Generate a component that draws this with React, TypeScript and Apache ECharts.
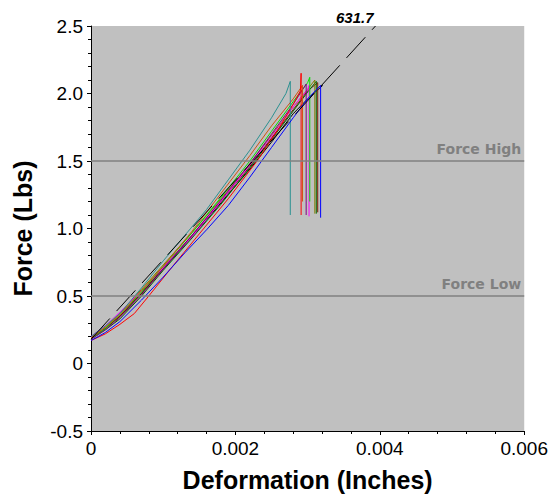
import React, { useEffect, useRef } from "react";
import * as echarts from "echarts";

// Axis ranges / ticks
const xTicks = [0, 0.002, 0.004, 0.006];
const yTicks = [-0.5, 0, 0.5, 1.0, 1.5, 2.0, 2.5];

// Limit lines
const forceHigh = 1.5;
const forceLow = 0.5;

// Stiffness fit line (dashed)
const fitLine: [number, number][] = [
  [0, 0.18],
  [0.00394, 2.5],
];
const fitLabel = "631.7";

// Test curves: [deformation, force]
const teal: [number, number][] = [
  [0, 0.2], [0.0002, 0.28], [0.0004, 0.37], [0.0007, 0.56], [0.001, 0.76], [0.0013, 0.95],
  [0.0016, 1.14], [0.0019, 1.36], [0.0022, 1.58], [0.0025, 1.82], [0.0027, 2.0], [0.00276, 2.09], [0.00276, 1.10],
];
const red: [number, number][] = [
  [0, 0.17], [0.0002, 0.22], [0.0004, 0.29], [0.0006, 0.37], [0.0008, 0.5], [0.0011, 0.7], [0.0015, 0.96],
  [0.0019, 1.22], [0.0023, 1.5], [0.0026, 1.74], [0.0028, 1.92], [0.0029, 2.02], [0.00291, 2.15], [0.00291, 1.10],
];
const orange: [number, number][] = [
  [0, 0.19], [0.0002, 0.27], [0.0004, 0.36], [0.0007, 0.54], [0.001, 0.72], [0.0014, 0.98], [0.0018, 1.26],
  [0.0022, 1.54], [0.0025, 1.76], [0.0028, 1.96], [0.00293, 2.06], [0.00293, 1.2],
];
const purple: [number, number][] = [
  [0, 0.18], [0.0002, 0.25], [0.0004, 0.34], [0.0007, 0.51], [0.001, 0.7], [0.0014, 0.95], [0.0018, 1.21],
  [0.0022, 1.48], [0.0025, 1.7], [0.0028, 1.92], [0.00298, 2.07], [0.00298, 1.10],
];
const green: [number, number][] = [
  [0, 0.18], [0.0002, 0.26], [0.0004, 0.36], [0.0007, 0.53], [0.001, 0.72], [0.0014, 0.97], [0.0018, 1.23],
  [0.0022, 1.5], [0.0025, 1.72], [0.0028, 1.94], [0.003, 2.08], [0.00303, 2.12], [0.00303, 1.2],
];
const magenta: [number, number][] = [
  [0, 0.2], [0.0002, 0.28], [0.0004, 0.38], [0.0007, 0.54], [0.001, 0.71], [0.0014, 0.94], [0.0018, 1.2],
  [0.0022, 1.47], [0.0025, 1.68], [0.0028, 1.9], [0.003, 2.03], [0.00302, 2.06], [0.00302, 1.09],
];
const olive: [number, number][] = [
  [0, 0.19], [0.0002, 0.27], [0.0004, 0.37], [0.0007, 0.55], [0.001, 0.73], [0.0014, 0.97], [0.0018, 1.22],
  [0.0022, 1.48], [0.0025, 1.69], [0.0028, 1.9], [0.003, 2.03], [0.0031, 2.1], [0.0031, 1.11],
];
const darkGreen: [number, number][] = [
  [0, 0.18], [0.0002, 0.25], [0.0004, 0.33], [0.0007, 0.5], [0.001, 0.69], [0.0014, 0.93], [0.0018, 1.18],
  [0.0022, 1.45], [0.0025, 1.66], [0.0028, 1.87], [0.003, 2.01], [0.00312, 2.09], [0.00312, 1.11],
];
const maroon: [number, number][] = [
  [0, 0.19], [0.0002, 0.26], [0.0004, 0.35], [0.0007, 0.52], [0.001, 0.71], [0.0014, 0.95], [0.0018, 1.2],
  [0.0022, 1.46], [0.0025, 1.67], [0.0028, 1.88], [0.003, 2.02], [0.00314, 2.08], [0.00314, 1.12],
];
const blue: [number, number][] = [
  [0, 0.17], [0.0002, 0.23], [0.0004, 0.31], [0.0007, 0.47], [0.001, 0.64], [0.0013, 0.82], [0.0016, 0.99],
  [0.0019, 1.17], [0.0022, 1.38], [0.0025, 1.6], [0.0028, 1.82], [0.003, 1.96], [0.00318, 2.06], [0.00318, 1.08],
];
const black: [number, number][] = [
  [0, 0.18], [0.0002, 0.26], [0.0004, 0.35], [0.0007, 0.52], [0.001, 0.7], [0.0014, 0.94], [0.0018, 1.19],
  [0.0022, 1.44], [0.0025, 1.64], [0.0028, 1.85], [0.003, 1.96], [0.00321, 2.06],
];

const curves: { data: [number, number][]; color: string }[] = [
  { data: black, color: "#000000" },
  { data: maroon, color: "#7a1a00" },
  { data: darkGreen, color: "#006400" },
  { data: olive, color: "#808000" },
  { data: magenta, color: "#ff00ff" },
  { data: green, color: "#00e000" },
  { data: purple, color: "#800080" },
  { data: orange, color: "#d05010" },
  { data: red, color: "#ff0000" },
  { data: teal, color: "#2a9090" },
  { data: blue, color: "#0000ff" },
];

export default function App() {
  const ref = useRef<HTMLDivElement>(null);
  useEffect(() => {
    document.body.style.margin = "0";
    if (!ref.current) return;
    const chart = echarts.init(ref.current, undefined, { renderer: "svg" });
    const font = "'Liberation Sans', Arial, sans-serif";
    const series: any[] = curves.map((c) => ({
      type: "line",
      data: c.data,
      symbol: "none",
      lineStyle: { color: c.color, width: 1 },
      z: 3,
    }));
    series.unshift({
      type: "line",
      data: [],
      symbol: "none",
      markLine: {
        silent: true,
        symbol: "none",
        lineStyle: { color: "#808080", width: 1.5, type: "solid" },
        label: {
          position: "insideEndTop",
          color: "#808080",
          fontWeight: "bold",
          fontSize: 14,
          fontFamily: "'DejaVu Sans', Verdana, sans-serif",
          distance: [3, 5],
        },
        data: [
          { yAxis: forceHigh, label: { formatter: "Force High" } },
          { yAxis: forceLow, label: { formatter: "Force Low" } },
        ],
      },
      z: 2,
    });
    series.push({
      type: "line",
      data: fitLine,
      symbol: "none",
      lineStyle: { color: "#000000", width: 1, type: [28, 10] },
      z: 4,
    });
    chart.setOption({
      animation: false,
      grid: {
        left: 91,
        right: 24,
        top: 26,
        bottom: 62,
        show: true,
        backgroundColor: "#c0c0c0",
        borderWidth: 0,
      },
      xAxis: {
        type: "value",
        min: xTicks[0],
        max: xTicks[xTicks.length - 1],
        interval: xTicks[1] - xTicks[0],
        name: "Deformation (Inches)",
        nameLocation: "middle",
        nameGap: 36,
        nameTextStyle: { fontSize: 25, fontWeight: "bold", color: "#000", fontFamily: font },
        axisLine: { show: true, onZero: false, lineStyle: { color: "#000", width: 1 } },
        axisTick: { show: true, length: 4, lineStyle: { color: "#000" } },
        minorTick: { show: true, splitNumber: 5, length: 3, lineStyle: { color: "#000" } },
        splitLine: { show: false },
        axisLabel: {
          fontSize: 19,
          color: "#000",
          fontFamily: font,
          margin: 8,
          formatter: (v: number) => (v === 0 ? "0" : v.toFixed(3)),
        },
      },
      yAxis: {
        type: "value",
        min: yTicks[0],
        max: yTicks[yTicks.length - 1],
        interval: yTicks[1] - yTicks[0],
        name: "Force (Lbs)",
        nameLocation: "middle",
        nameGap: 56,
        nameRotate: 90,
        nameTextStyle: { fontSize: 25, fontWeight: "bold", color: "#000", fontFamily: font },
        axisLine: { show: true, onZero: false, lineStyle: { color: "#000", width: 1 } },
        axisTick: { show: true, length: 4, lineStyle: { color: "#000" } },
        minorTick: { show: true, splitNumber: 5, length: 3, lineStyle: { color: "#000" } },
        splitLine: { show: false },
        axisLabel: {
          fontSize: 19,
          color: "#000",
          fontFamily: font,
          margin: 8,
          formatter: (v: number) => (v === 0 ? "0" : v.toFixed(1)),
        },
      },
      graphic: [
        {
          type: "text",
          left: 336,
          top: 10,
          style: {
            text: fitLabel,
            fontSize: 15,
            fontWeight: "bold",
            fontStyle: "italic",
            fill: "#000",
            fontFamily: font,
          },
        },
      ],
      series,
    });
    return () => chart.dispose();
  }, []);
  return <div ref={ref} style={{ width: 551, height: 497 }} />;
}
